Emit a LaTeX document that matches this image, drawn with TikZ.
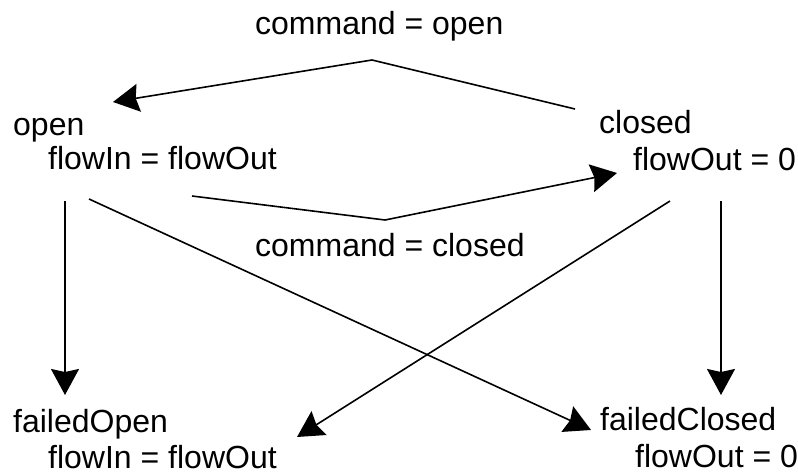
\documentclass[tikz,border=0pt]{standalone}
\usepackage{fontspec}
\setmainfont{Liberation Sans}
\usetikzlibrary{arrows.meta}
\begin{document}
\begin{tikzpicture}[x=1pt,y=-1pt,
  lbl/.style={anchor=base west,inner sep=0pt,font=\fontsize{32}{36}\selectfont},
  trans/.style={line width=1.6pt,-{Stealth[length=26pt,width=28pt,inset=3pt]}}]
  \useasboundingbox (0,0) rectangle (798,476);
  % state names and their invariants
  \node[lbl] (open)         at (13,136)  {open};
  \node[lbl] (openInv)      at (48,170)  {flowIn = flowOut};
  \node[lbl] (closed)       at (599,134) {closed};
  \node[lbl] (closedInv)    at (633,171) {flowOut = 0};
  \node[lbl] (failedOpen)   at (13,432)  {failedOpen};
  \node[lbl] (failedOpenInv) at (48,468) {flowIn = flowOut};
  \node[lbl] (failedClosed) at (600,430) {failedClosed};
  \node[lbl] (failedClosedInv) at (635,467) {flowOut = 0};
  % transition guards
  \node[lbl] (cmdOpen)   at (255,35)  {command = open};
  \node[lbl] (cmdClosed) at (255,256) {command = closed};
  % connector ends
  \coordinate (cTop)  at (575,109);
  \coordinate (pTop)  at (372,60);
  \coordinate (tTop)  at (113,102);
  \coordinate (cBot)  at (192,196);
  \coordinate (pBot)  at (385,220);
  \coordinate (tBot)  at (617,173);
  \coordinate (oL)    at (65,201);
  \coordinate (tL)    at (65,395);
  \coordinate (oR)    at (721,201);
  \coordinate (tR)    at (721,395);
  \coordinate (oX)    at (89,199);
  \coordinate (tX)    at (591,430);
  \coordinate (cX)    at (670,201);
  \coordinate (tY)    at (297,437);
  % transitions
  \draw[trans] (cTop) -- (pTop) -- (tTop);
  \draw[trans] (cBot) -- (pBot) -- (tBot);
  \draw[trans] (oL) -- (tL);
  \draw[trans] (oR) -- (tR);
  \draw[trans] (oX) -- (tX);
  \draw[trans] (cX) -- (tY);
\end{tikzpicture}
\end{document}
